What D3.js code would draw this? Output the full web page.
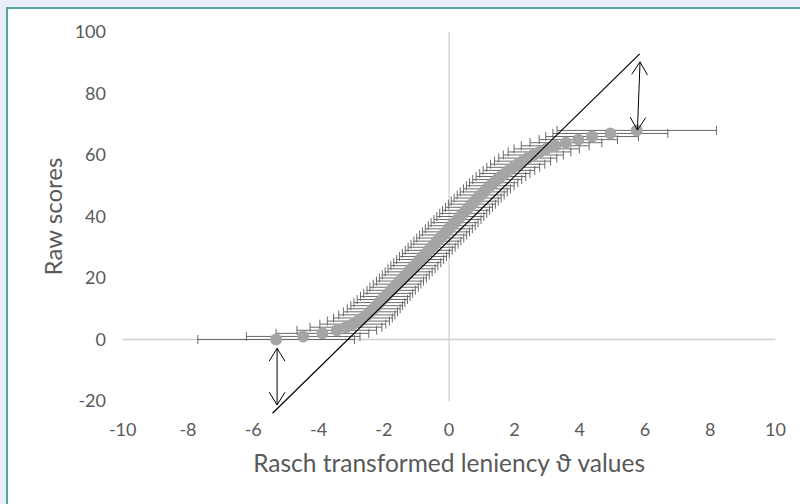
<!DOCTYPE html>
<html>
<head>
<meta charset="utf-8">
<script src="https://cdn.jsdelivr.net/npm/d3@7"></script>
<style>
  html, body { margin: 0; padding: 0; background: #e9eef8; }
  svg { display: block; }
  text { font-family: Lato, "Open Sans", sans-serif; fill: #595959; }
</style>
</head>
<body>
<div id="chart"></div>
<script>
// raw score for every person group
const scores = [0, 1, 2, 3, 4, 5, 6, 7, 8, 9, 10, 11, 12, 13, 14, 15, 16, 17, 18, 19,
  20, 21, 22, 23, 24, 25, 26, 27, 28, 29, 30, 31, 32, 33, 34, 35, 36, 37, 38, 39,
  40, 41, 42, 43, 44, 45, 46, 47, 48, 49, 50, 51, 52, 53, 54, 55, 56, 57, 58, 59,
  60, 61, 62, 63, 64, 65, 66, 67, 68];

// Rasch transformed leniency for each raw score
const theta = [-5.30, -4.47, -3.88, -3.44, -3.16, -2.95, -2.78, -2.64, -2.52, -2.41,
  -2.31, -2.22, -2.135, -2.045, -1.955, -1.865, -1.775, -1.685, -1.595, -1.505,
  -1.415, -1.327, -1.239, -1.151, -1.063, -0.975, -0.887, -0.799, -0.711, -0.623,
  -0.535, -0.447, -0.359, -0.271, -0.183, -0.095, -0.007, 0.081, 0.169, 0.257,
  0.345, 0.433, 0.521, 0.609, 0.697, 0.785, 0.875, 0.967, 1.062, 1.16,
  1.261, 1.366, 1.475, 1.589, 1.708, 1.833, 1.964, 2.102, 2.25, 2.41,
  2.58, 2.77, 2.99, 3.25, 3.58, 3.96, 4.38, 4.94, 5.75];

// half width of each horizontal error bar
const errs = [2.40, 1.74, 1.42, 1.22, 1.10, 1.01, 0.95, 0.90, 0.86, 0.83,
  0.81, 0.79, 0.78, 0.77, 0.76, 0.75, 0.74, 0.74, 0.73, 0.72,
  0.72, 0.72, 0.72, 0.72, 0.72, 0.72, 0.72, 0.72, 0.72, 0.72,
  0.72, 0.72, 0.72, 0.72, 0.72, 0.72, 0.72, 0.72, 0.72, 0.72,
  0.72, 0.72, 0.72, 0.72, 0.72, 0.72, 0.72, 0.72, 0.72, 0.72,
  0.73, 0.74, 0.75, 0.76, 0.77, 0.79, 0.81, 0.83, 0.86, 0.89,
  0.92, 0.96, 1.00, 1.04, 1.10, 1.20, 1.42, 1.76, 2.44];

// straight reference line
const lineTheta = [-5.41, 5.84];
const lineScore = [-24.0, 92.9];

// double headed arrows: [theta start, score start, theta end, score end]
const arrowLow = [-5.27, -2.86, -5.27, -21.3];
const arrowHigh = [5.85, 90.3, 5.77, 68.1];

const xTicks = [-10, -8, -6, -4, -2, 0, 2, 4, 6, 8, 10];
const xTickLabels = ["-10", "-8", "-6", "-4", "-2", "0", "2", "4", "6", "8", "10"];
const yTicks = [-20, 0, 20, 40, 60, 80, 100];
const yTickLabels = ["-20", "0", "20", "40", "60", "80", "100"];

const width = 800,
  height = 504;

const svg = d3.select("#chart")
  .append("svg")
  .attr("width", width)
  .attr("height", height);

// page frame
svg.append("rect")
  .attr("width", width).attr("height", height)
  .attr("fill", "#e9eef8");
svg.append("rect")
  .attr("x", 7).attr("y", 8)
  .attr("width", width).attr("height", height)
  .attr("fill", "#fff")
  .attr("stroke", "#5aa3a3")
  .attr("stroke-width", 2);

const x = d3.scaleLinear().domain([-10, 10]).range([122.7, 775.5]);
const y = d3.scaleLinear().domain([-20, 100]).range([401, 32]);

// axis lines through zero
svg.append("line")
  .attr("x1", x(-10)).attr("x2", x(10))
  .attr("y1", y(0)).attr("y2", y(0))
  .attr("stroke", "#cfcfcf").attr("stroke-width", 1.3);
svg.append("line")
  .attr("x1", x(0)).attr("x2", x(0))
  .attr("y1", y(100)).attr("y2", y(-20))
  .attr("stroke", "#cfcfcf").attr("stroke-width", 1.3);

// tick labels
svg.append("g")
  .selectAll("text")
  .data(yTicks)
  .join("text")
  .attr("x", 106)
  .attr("y", d => y(d))
  .attr("dy", "0.36em")
  .attr("text-anchor", "end")
  .style("font-size", "18px")
  .text((d, i) => yTickLabels[i]);

svg.append("g")
  .selectAll("text")
  .data(xTicks)
  .join("text")
  .attr("x", d => x(d))
  .attr("y", 430)
  .attr("dy", "0.36em")
  .attr("text-anchor", "middle")
  .style("font-size", "18px")
  .text((d, i) => xTickLabels[i]);

// axis titles
svg.append("text")
  .attr("x", x(0))
  .attr("y", 472)
  .attr("text-anchor", "middle")
  .style("font-size", "24.5px")
  .text("Rasch transformed leniency \u03D1 values");

svg.append("text")
  .attr("transform", `translate(62, ${(y(100) + y(-20)) / 2}) rotate(-90)`)
  .attr("text-anchor", "middle")
  .style("font-size", "24px")
  .text("Raw scores");

const points = scores.map((s, i) => ({ score: s, theta: theta[i], err: errs[i] }));

// error bars
const bars = svg.append("g")
  .attr("stroke", "#6a6a6a")
  .attr("stroke-width", 1)
  .attr("fill", "none");

bars.selectAll("path")
  .data(points)
  .join("path")
  .attr("d", d => {
    const yy = y(d.score), x0 = x(d.theta - d.err), x1 = x(d.theta + d.err);
    return `M${x0},${yy}H${x1}M${x0},${yy - 4.5}V${yy + 4.5}M${x1},${yy - 4.5}V${yy + 4.5}`;
  });

// markers
svg.append("g")
  .selectAll("circle")
  .data(points)
  .join("circle")
  .attr("cx", d => x(d.theta))
  .attr("cy", d => y(d.score))
  .attr("r", 6)
  .attr("fill", "#a5a5a5");

// reference line
svg.append("line")
  .attr("x1", x(lineTheta[0])).attr("y1", y(lineScore[0]))
  .attr("x2", x(lineTheta[1])).attr("y2", y(lineScore[1]))
  .attr("stroke", "#000").attr("stroke-width", 1.2);

// arrows with open heads at both ends
function arrow(a) {
  const x0 = x(a[0]), y0 = y(a[1]), x1 = x(a[2]), y1 = y(a[3]);
  const ang = Math.atan2(y1 - y0, x1 - x0);
  const head = (px, py, dir) => {
    const l = 15, w = 0.55;
    const p1 = [px - l * Math.cos(dir - w), py - l * Math.sin(dir - w)];
    const p2 = [px - l * Math.cos(dir + w), py - l * Math.sin(dir + w)];
    return `M${p1}L${px},${py}L${p2}`;
  };
  svg.append("path")
    .attr("d", `M${x0},${y0}L${x1},${y1}` + head(x1, y1, ang) + head(x0, y0, ang + Math.PI))
    .attr("fill", "none")
    .attr("stroke", "#000")
    .attr("stroke-width", 1);
}
arrow(arrowLow);
arrow(arrowHigh);
</script>
</body>
</html>
